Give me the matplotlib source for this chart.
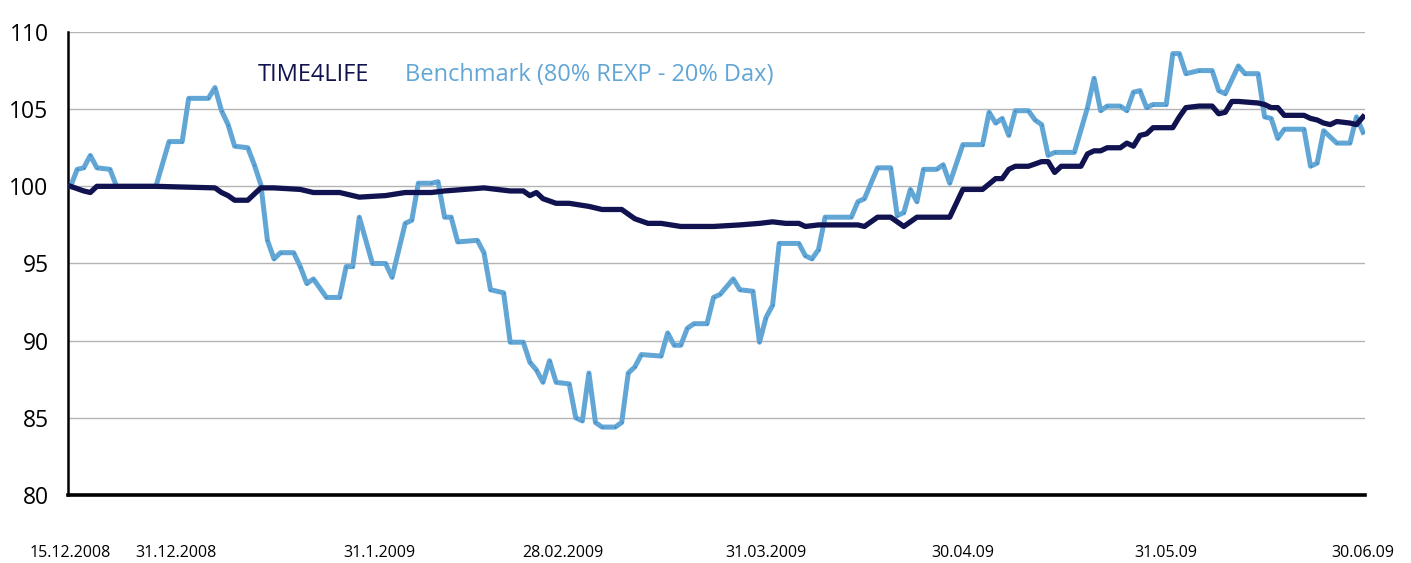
import pandas as pd
import matplotlib.pyplot as plt
import matplotlib.dates as mdates

# days since 15.12.2008 and index values
bench_days = [0, 1, 2, 3, 4, 6, 7, 13, 15, 17, 18, 21, 22, 23, 24, 25, 27, 28, 29, 30,
              31, 32, 34, 35, 36, 37, 39, 41, 42, 43, 44, 46, 48, 49, 51, 52, 53, 55, 56, 57,
              58, 59, 62, 63, 64, 66, 67, 69, 70, 71, 72, 73, 74, 76, 77, 78, 79, 80, 81, 83,
              84, 85, 86, 87, 90, 91, 92, 93, 94, 95, 97, 98, 99, 101, 102, 104, 105, 106, 107, 108,
              111, 112, 113, 114, 115, 119, 120, 121, 123, 125, 126, 127, 128, 129, 130, 132, 133, 134, 136, 139,
              140, 141, 142, 143, 144, 146, 147, 148, 149, 150, 153, 155, 156, 157, 158, 160, 161, 162, 163, 164,
              165, 167, 168, 169, 170, 172, 174, 175, 176, 178, 179, 181, 182, 183, 184, 185, 188, 189, 190, 191,
              193, 195, 196, 197]
bench_vals = [100.0, 101.1, 101.2, 102.0, 101.2, 101.1, 100.0, 100.0, 102.9, 102.9, 105.7, 105.7, 106.4, 104.9, 104.0, 102.6, 102.5, 101.4, 100.1, 96.5,
              95.3, 95.7, 95.7, 94.8, 93.7, 94.0, 92.8, 92.8, 94.8, 94.8, 98.0, 95.0, 95.0, 94.1, 97.6, 97.8, 100.2, 100.2, 100.3, 98.0,
              98.0, 96.4, 96.5, 95.7, 93.3, 93.1, 89.9, 89.9, 88.6, 88.1, 87.3, 88.7, 87.3, 87.2, 85.0, 84.8, 87.9, 84.7, 84.4, 84.4,
              84.7, 87.9, 88.3, 89.1, 89.0, 90.5, 89.7, 89.7, 90.8, 91.1, 91.1, 92.8, 93.0, 94.0, 93.3, 93.2, 89.9, 91.5, 92.3, 96.3,
              96.3, 95.5, 95.3, 95.9, 98.0, 98.0, 99.0, 99.2, 101.2, 101.2, 98.1, 98.3, 99.8, 99.0, 101.1, 101.1, 101.4, 100.2, 102.7, 102.7,
              104.8, 104.1, 104.4, 103.3, 104.9, 104.9, 104.3, 104.0, 102.0, 102.2, 102.2, 105.1, 107.0, 104.9, 105.2, 105.2, 104.9, 106.1, 106.2, 105.1,
              105.3, 105.3, 108.6, 108.6, 107.3, 107.5, 107.5, 106.2, 106.0, 107.8, 107.3, 107.3, 104.5, 104.4, 103.1, 103.7, 103.7, 101.3, 101.5, 103.6,
              102.8, 102.8, 104.5, 103.5]

fund_days = [0, 2, 3, 4, 13, 22, 23, 24, 25, 27, 29, 31, 35, 37, 41, 44, 48, 51, 55, 57,
             60, 63, 67, 69, 70, 71, 72, 74, 76, 79, 81, 84, 85, 86, 88, 90, 93, 98, 102, 105,
             107, 109, 111, 112, 114, 120, 121, 123, 125, 127, 129, 134, 136, 139, 141, 142, 143, 144, 146, 148,
             149, 150, 151, 154, 155, 156, 157, 158, 160, 161, 162, 163, 164, 165, 168, 169, 170, 172, 174, 175,
             176, 177, 178, 181, 182, 183, 184, 185, 188, 189, 190, 191, 192, 193, 195, 196, 197]
fund_vals = [100.0, 99.7, 99.6, 100.0, 100.0, 99.9, 99.6, 99.4, 99.1, 99.1, 99.9, 99.9, 99.8, 99.6, 99.6, 99.3, 99.4, 99.6, 99.6, 99.7,
             99.8, 99.9, 99.7, 99.7, 99.4, 99.6, 99.2, 98.9, 98.9, 98.7, 98.5, 98.5, 98.2, 97.9, 97.6, 97.6, 97.4, 97.4, 97.5, 97.6,
             97.7, 97.6, 97.6, 97.4, 97.5, 97.5, 97.4, 98.0, 98.0, 97.4, 98.0, 98.0, 99.8, 99.8, 100.5, 100.5, 101.1, 101.3, 101.3, 101.6,
             101.6, 100.9, 101.3, 101.3, 102.1, 102.3, 102.3, 102.5, 102.5, 102.8, 102.6, 103.3, 103.4, 103.8, 103.8, 104.5, 105.1, 105.2, 105.2, 104.7,
             104.8, 105.5, 105.5, 105.4, 105.3, 105.1, 105.1, 104.6, 104.6, 104.4, 104.3, 104.1, 104.0, 104.2, 104.1, 104.0, 104.5]

tick_dates = ['2008-12-15', '2008-12-31', '2009-01-31', '2009-02-28', '2009-03-31', '2009-04-30', '2009-05-31', '2009-06-30']
tick_labels = ['15.12.2008', '31.12.2008', '31.1.2009', '28.02.2009', '31.03.2009', '30.04.09', '31.05.09', '30.06.09']

start = pd.Timestamp('2008-12-15')
bench_x = start + pd.to_timedelta(bench_days, unit='D')
fund_x = start + pd.to_timedelta(fund_days, unit='D')

plt.rcParams['font.family'] = ['Open Sans', 'DejaVu Sans']

light = '#62a6d6'
dark = '#10134f'

fig = plt.figure(figsize=(14.11, 5.63), dpi=100)
ax = fig.add_axes([68/1411, 1-495/563, (1365-68)/1411, (495-32)/563])

ax.plot(bench_x, bench_vals, color=light, lw=3.6, marker='+', ms=2.0, mew=0.7, mec='#3a88c6', zorder=3)
ax.plot(fund_x, fund_vals, color=dark, lw=3.8, zorder=4)

ax.set_ylim(80, 110)
ax.set_yticks(range(80, 111, 5))
ax.set_xlim(start - pd.Timedelta(days=0.4), start + pd.Timedelta(days=197.3))
ax.set_xticks(pd.to_datetime(tick_dates))
ax.set_xticklabels(tick_labels)

for y in range(85, 111, 5):
    ax.axhline(y, color='#b4b4b4', lw=1.0, zorder=1)

for s in ['top', 'right']:
    ax.spines[s].set_visible(False)
ax.spines['left'].set_linewidth(1.8)
ax.spines['bottom'].set_linewidth(2.6)
ax.spines['left'].set_color('black')
ax.spines['bottom'].set_color('black')

ax.tick_params(axis='y', length=0, pad=14, labelsize=16.5)
ax.tick_params(axis='x', length=0, pad=36, labelsize=11.5)

fig.text(258/1411, 1-75/563, 'TIME4LIFE', color=dark, fontsize=17, va='center', ha='left')
fig.text(405/1411, 1-75/563, 'Benchmark (80% REXP - 20% Dax)', color=light, fontsize=17, va='center', ha='left')

plt.savefig('out.png', dpi=100)
